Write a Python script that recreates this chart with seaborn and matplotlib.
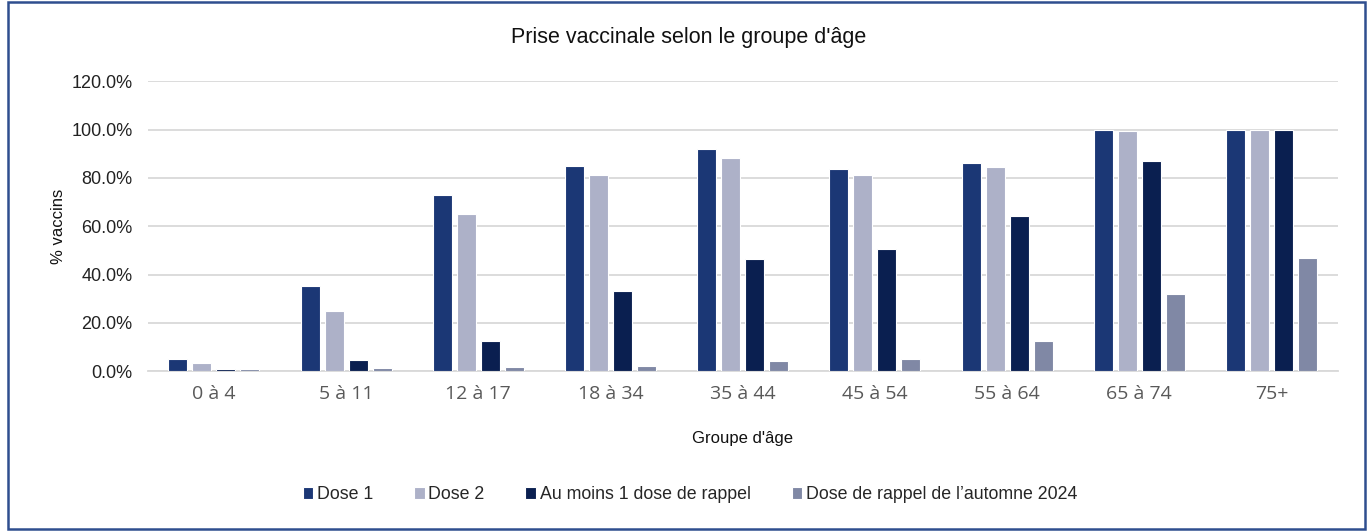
import numpy as np
import pandas as pd
import matplotlib.pyplot as plt
import seaborn as sns
from matplotlib.patches import Rectangle
from matplotlib.ticker import PercentFormatter

groupes = ["0 à 4", "5 à 11", "12 à 17", "18 à 34", "35 à 44", "45 à 54", "55 à 64", "65 à 74", "75+"]
series = ["Dose 1", "Dose 2", "Au moins 1 dose de rappel", "Dose de rappel de l\u2019automne 2024"]

dose1 = [5.2, 35.3, 72.8, 85.0, 91.9, 83.7, 86.2, 100.0, 100.0]
dose2 = [3.2, 24.8, 65.1, 81.2, 88.3, 81.4, 84.6, 99.2, 100.0]
rappel = [0.7, 4.5, 12.3, 33.2, 46.6, 50.5, 64.4, 86.8, 100.0]
automne = [0.8, 1.2, 1.7, 2.2, 4.1, 5.1, 12.6, 32.0, 46.8]

couleurs = ["#1b3775", "#adb1c8", "#0a1f50", "#8088a5"]

df = pd.DataFrame({
    "groupe": groupes * 4,
    "serie": np.repeat(series, len(groupes)),
    "valeur": dose1 + dose2 + rappel + automne,
})

sns.set_theme(style="white")
plt.rcParams['font.family'] = ['Liberation Sans', 'DejaVu Sans']

fig = plt.figure(figsize=(13.69, 5.31), dpi=100)
ax = fig.add_axes([0.108, 0.301, 0.869, 0.546])

sns.barplot(data=df, x="groupe", y="valeur", hue="serie", order=groupes, hue_order=series,
            palette=couleurs, saturation=1, width=0.727, gap=0.21, edgecolor="white",
            linewidth=0.8, errorbar=None, ax=ax, zorder=3)

ax.set_ylim(0, 120)
ax.set_yticks(np.arange(0, 121, 20))
ax.yaxis.set_major_formatter(PercentFormatter(decimals=1))
ax.set_xlim(-0.5, len(groupes) - 0.5)
ax.grid(axis="y", color="#d9d9d9", linewidth=1.3, zorder=0)
for s in ["top", "right", "left"]:
    ax.spines[s].set_visible(False)
ax.spines["bottom"].set_color("#d9d9d9")
ax.spines["bottom"].set_linewidth(1.3)
ax.tick_params(axis="y", labelsize=13, colors="#222222", length=0, pad=11)
ax.tick_params(axis="x", length=0, pad=10)
for lab in ax.get_xticklabels():
    lab.set_fontfamily("Open Sans")
    lab.set_fontsize(14)
    lab.set_color("#595959")

ax.set_xlabel("Groupe d'âge", fontsize=12, color="#111111", labelpad=20)
ax.set_ylabel("% vaccins", fontsize=12, color="#111111", labelpad=4)
fig.text(0.503, 0.93, "Prise vaccinale selon le groupe d'âge", ha="center", va="center",
         fontsize=15.5, color="#111111")

ax.legend(loc="center", bbox_to_anchor=(0.504, 0.068), bbox_transform=fig.transFigure,
          ncol=4, frameon=False, fontsize=12.8, handlelength=0.6, handleheight=0.6,
          handletextpad=0.2, columnspacing=2.3)

fig.patches.append(Rectangle((0.006, 0.003), 0.991, 0.993, transform=fig.transFigure,
                             fill=False, edgecolor="#2f4e8f", linewidth=1.8))

fig.savefig("out.png", dpi=100)
